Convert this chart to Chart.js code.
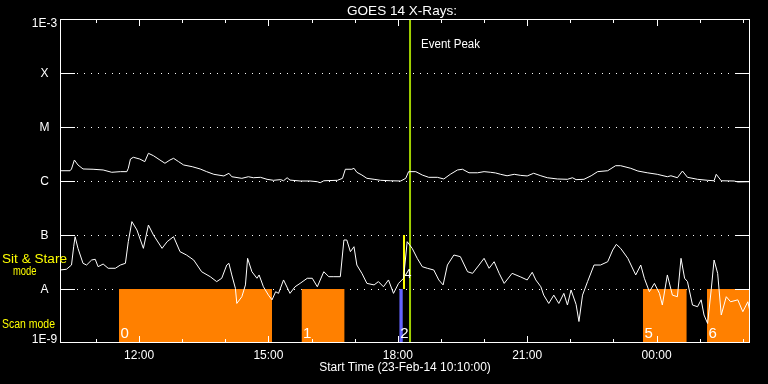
<!DOCTYPE html>
<html><head><meta charset="utf-8">
<script src="https://cdn.jsdelivr.net/npm/chart.js@4.4.1/dist/chart.umd.min.js"></script>
<style>html,body{margin:0;padding:0;background:#000;overflow:hidden}canvas{display:block}</style>
</head><body>
<canvas id="c" width="768" height="384" style="width:768px;height:384px"></canvas>
<script>
// ---- data (time = minutes after 23-Feb-14 10:10:00) ----
const chartTitle = 'GOES 14 X-Rays:';
const startLabel = '23-Feb-14 10:10:00';
const startMinuteOfDay = 10 * 60 + 10;

// long channel (upper curve), W/m^2
const longTime = [0,14,16,20,25,32,46,60,72,84,93,95,98,102,111,118,123,130,139,146,153,158,165,172,184,195,204,214,228,235,239,253,262,269,279,288,297,307,311,316,320,334,348,358,362,367,386,393,397,406,409,413,420,427,437,446,460,474,481,485,495,504,513,525,534,543,553,560,569,581,590,599,606,613,622,632,641,650,659,669,678,692,706,713,718,729,739,748,762,773,780,794,804,817,831,845,850,859,866,873,887,901,910,913,920,938,943,960];
const longFlux = [1.55e-6,1.55e-6,1.67e-6,2.45e-6,1.98e-6,1.67e-6,1.65e-6,1.60e-6,1.45e-6,1.49e-6,
1.49e-6,1.72e-6,2.55e-6,2.75e-6,2.55e-6,2.28e-6,3.26e-6,2.94e-6,2.45e-6,2.13e-6,
2.45e-6,2.63e-6,2.28e-6,1.98e-6,1.84e-6,1.67e-6,1.49e-6,1.33e-6,1.24e-6,1.39e-6,
1.20e-6,1.12e-6,1.20e-6,1.15e-6,1.17e-6,1.075e-6,1.03e-6,1.06e-6,1.01e-6,1.15e-6,
1.04e-6,1.00e-6,1.00e-6,0.97e-6,0.93e-6,1.01e-6,1.03e-6,1.12e-6,1.65e-6,1.65e-6,
1.72e-6,1.45e-6,1.29e-6,1.12e-6,1.075e-6,1.03e-6,1.01e-6,1.00e-6,1.12e-6,1.49e-6,
1.49e-6,1.29e-6,1.17e-6,1.17e-6,1.09e-6,1.33e-6,1.60e-6,1.65e-6,1.42e-6,1.42e-6,
1.49e-6,1.45e-6,1.41e-6,1.33e-6,1.25e-6,1.33e-6,1.27e-6,1.24e-6,1.39e-6,1.25e-6,
1.15e-6,1.09e-6,1.075e-6,1.15e-6,1.06e-6,1.075e-6,1.25e-6,1.49e-6,1.55e-6,1.92e-6,
1.92e-6,1.72e-6,1.53e-6,1.42e-6,1.33e-6,1.20e-6,1.25e-6,1.15e-6,1.53e-6,1.17e-6,
1.075e-6,1.03e-6,1.01e-6,1.33e-6,1.01e-6,1.00e-6,0.96e-6,0.97e-6];

// short channel (lower curve), W/m^2
const shortTime = [0,9,16,19,21,25,32,37,44,49,53,60,67,77,84,91,95,100,107,116,123,130,142,149,158,167,176,186,197,209,218,225,232,235,239,244,246,253,258,261,267,274,277,283,290,295,300,304,311,320,327,334,344,351,358,367,374,381,390,395,399,404,409,413,420,427,437,443,450,457,464,471,478,483,490,497,504,511,520,527,533,539,548,557,567,574,583,590,597,604,611,618,629,641,650,657,662,669,673,680,687,694,701,706,711,718,722,727,734,743,752,762,769,774,780,790,801,808,813,820,827,834,838,845,852,859,864,869,873,880,887,892,896,901,906,910,915,920,927,933,943,950,957,960];
const shortFlux = [2.25e-8,2.32e-8,2.78e-8,6.07e-8,9.3e-8,5.66e-8,2.99e-8,2.78e-8,3.44e-8,3.55e-8,
2.59e-8,2.90e-8,2.42e-8,2.42e-8,2.78e-8,2.99e-8,7.52e-8,17.7e-8,12.4e-8,5.66e-8,
15.3e-8,10e-8,5.66e-8,7.52e-8,9.3e-8,4.91e-8,4.26e-8,3.44e-8,2.09e-8,1.69e-8,
1.37e-8,1.58e-8,2.78e-8,2.99e-8,1.82e-8,1.03e-8,0.54e-8,0.72e-8,1.19e-8,3.70e-8,
2.09e-8,1.58e-8,1.82e-8,1.10e-8,0.77e-8,0.63e-8,0.89e-8,0.83e-8,1.47e-8,0.83e-8,
1.10e-8,1.27e-8,1.58e-8,1.58e-8,1.10e-8,2.09e-8,1.69e-8,1.69e-8,1.69e-8,8.08e-8,
8.08e-8,4.91e-8,6.07e-8,2.78e-8,1.95e-8,1.27e-8,1.19e-8,1.37e-8,1.10e-8,1.47e-8,
0.83e-8,1.27e-8,1.58e-8,7.52e-8,5.66e-8,3.70e-8,2.59e-8,2.42e-8,2.25e-8,1.47e-8,
1.19e-8,2.78e-8,4.26e-8,3.97e-8,2.09e-8,1.95e-8,2.78e-8,3.70e-8,2.42e-8,3.20e-8,
1.95e-8,1.27e-8,1.95e-8,1.67e-8,1.47e-8,2.04e-8,1.47e-8,1.10e-8,0.77e-8,0.54e-8,
0.77e-8,0.54e-8,0.83e-8,0.505e-8,0.96e-8,0.52e-8,0.25e-8,0.77e-8,1.37e-8,2.78e-8,
2.78e-8,3.20e-8,5.27e-8,6.71e-8,5.66e-8,3.70e-8,1.82e-8,2.78e-8,1.58e-8,0.89e-8,
1.27e-8,0.83e-8,0.505e-8,1.82e-8,0.77e-8,0.72e-8,3.70e-8,1.58e-8,1.37e-8,0.505e-8,
0.47e-8,0.63e-8,0.33e-8,0.23e-8,0.96e-8,3.44e-8,1.95e-8,0.33e-8,0.72e-8,0.58e-8,
0.63e-8,0.38e-8,0.58e-8,0.38e-8];

// observing modes (minutes after start)
const scanStart = [82, 336, 811, 900];
const scanEnd = [295, 396, 872, 961];
const scanLabels = ['0', '1', '5', '6'];
const calStart = [472];
const calEnd = [477];
const calLabels = ['2'];
const stareStart = [477];
const stareEnd = [480];
const stareLabels = ['4'];
const eventPeak = 487;

// axes
const levelValues = [1e-9, 1e-8, 1e-7, 1e-6, 1e-5, 1e-4, 1e-3];
const levelLabels = ['1E-9', 'A', 'B', 'C', 'M', 'X', '1E-3'];
const hourTicks = [50,110,170,230,290,350,410,470,530,590,650,710,770,830,890,950];
const labeledTicks = [110, 290, 470, 650, 830];

// ---- styles ----
const FONT = 'Liberation Sans';
const ORANGE = '#ff8000', BLUE = '#6464ff', YELLOW = '#ffff00', PEAK = '#a0d000';

function fmtTime(m) {
  const t = (startMinuteOfDay + m) % 1440;
  const h = Math.floor(t / 60), mm = t % 60;
  return String(h).padStart(2, '0') + ':' + String(mm).padStart(2, '0');
}

// draw text stretched/compressed horizontally to a given width, left edge at x
function fitText(ctx, str, x, y, width) {
  const w = ctx.measureText(str).width;
  ctx.save();
  ctx.textAlign = 'left';
  ctx.translate(x, y);
  ctx.scale(width / w, 1);
  ctx.fillText(str, 0, 0);
  ctx.restore();
}

const datasets = [];
datasets.push({ data: shortTime.map((t, i) => ({ x: t, y: shortFlux[i] })), borderColor: '#fff', borderWidth: 1, pointRadius: 0, tension: 0, fill: false });
datasets.push({ data: longTime.map((t, i) => ({ x: t, y: longFlux[i] })), borderColor: '#fff', borderWidth: 1, pointRadius: 0, tension: 0, fill: false });
datasets.push({ data: [{ x: eventPeak, y: 1e-9 }, { x: eventPeak, y: 1e-3 }], borderColor: PEAK, borderWidth: 2, pointRadius: 0, fill: false });
stareStart.forEach((s, i) => datasets.push({ data: [{ x: s, y: 1e-7 }, { x: stareEnd[i], y: 1e-7 }], borderColor: 'rgba(0,0,0,0)', borderWidth: 0, backgroundColor: YELLOW, pointRadius: 0, fill: { value: 1e-8 } }));
calStart.forEach((s, i) => datasets.push({ data: [{ x: s, y: 1e-8 }, { x: calEnd[i], y: 1e-8 }], borderColor: 'rgba(0,0,0,0)', borderWidth: 0, backgroundColor: BLUE, pointRadius: 0, fill: 'start' }));
scanStart.forEach((s, i) => datasets.push({ data: [{ x: s, y: 1e-8 }, { x: scanEnd[i], y: 1e-8 }], borderColor: 'rgba(0,0,0,0)', borderWidth: 0, backgroundColor: ORANGE, pointRadius: 0, fill: 'start' }));

const decor = {
  id: 'decor',
  beforeDatasetsDraw(chart) {
    const { ctx, chartArea: a, scales: { y } } = chart;
    ctx.save();
    ctx.strokeStyle = '#fff';
    ctx.lineWidth = 1;
    ctx.setLineDash([1, 6]);
    levelValues.slice(1, -1).forEach(v => {
      const py = Math.round(y.getPixelForValue(v)) + 0.5;
      ctx.beginPath(); ctx.moveTo(a.left + 17, py); ctx.lineTo(a.right - 15, py); ctx.stroke();
    });
    ctx.restore();
  },
  afterDatasetsDraw(chart) {
    const { ctx, chartArea: a, scales: { x, y } } = chart;
    ctx.save();
    ctx.strokeStyle = '#fff';
    ctx.lineWidth = 1;
    // frame
    ctx.strokeRect(a.left + 0.5, a.top + 0.5, a.right - a.left - 1, a.bottom - a.top - 1);
    // y ticks
    levelValues.slice(1, -1).forEach(v => {
      const py = Math.round(y.getPixelForValue(v)) + 0.5;
      ctx.beginPath();
      ctx.moveTo(a.left, py); ctx.lineTo(a.left + 15, py);
      ctx.moveTo(a.right - 15, py); ctx.lineTo(a.right, py);
      ctx.stroke();
    });
    // x ticks
    hourTicks.forEach(v => {
      const px = Math.round(x.getPixelForValue(v)) + 0.5;
      const len = labeledTicks.includes(v) ? 7 : 4;
      ctx.beginPath();
      ctx.moveTo(px, a.top); ctx.lineTo(px, a.top + len);
      ctx.moveTo(px, a.bottom); ctx.lineTo(px, a.bottom - len);
      ctx.stroke();
    });
    // y labels
    ctx.fillStyle = '#fff';
    ctx.font = '12px "' + FONT + '"';
    ctx.textAlign = 'center';
    ctx.textBaseline = 'alphabetic';
    levelValues.forEach((v, i) => {
      const py = y.getPixelForValue(v);
      let off = 4;
      if (i === 0) off = 0;
      if (i === levelValues.length - 1) off = 8;
      ctx.fillText(levelLabels[i], a.left - 15.5, py + off);
    });
    // title
    ctx.font = '13px "' + FONT + '"';
    fitText(ctx, chartTitle, 347, 15, 110);
    // event peak
    ctx.font = '12px "' + FONT + '"';
    fitText(ctx, 'Event Peak', x.getPixelForValue(eventPeak) + 11, 48, 59);
    // mode labels
    ctx.fillStyle = YELLOW;
    const yB = y.getPixelForValue(1e-7), yA = y.getPixelForValue(1e-8);
    fitText(ctx, 'Sit & Stare', 2, yB + 28, 65);
    fitText(ctx, 'mode', 13, yB + 40, 23.5);
    fitText(ctx, 'Scan mode', 2, yA + 39, 53);
    // segment numbers
    ctx.fillStyle = '#fff';
    ctx.textAlign = 'left';
    ctx.font = '15px "' + FONT + '"';
    scanStart.forEach((s, i) => ctx.fillText(scanLabels[i], x.getPixelForValue(s) + 1.5, a.bottom - 5));
    calStart.forEach((s, i) => ctx.fillText(calLabels[i], x.getPixelForValue(s) + 1, a.bottom - 5));
    ctx.font = '12px "' + FONT + '"';
    stareStart.forEach((s, i) => ctx.fillText(stareLabels[i], x.getPixelForValue(s) + 2, yA - 11));
    ctx.restore();
  }
};

new Chart(document.getElementById('c'), {
  type: 'line',
  data: { datasets },
  options: {
    responsive: false,
    animation: false,
    devicePixelRatio: 1,
    layout: { padding: { left: 60, right: 18, top: 19, bottom: 0 } },
    plugins: { legend: { display: false }, tooltip: { enabled: false }, title: { display: false } },
    scales: {
      x: {
        type: 'linear', min: 0, max: 960,
        grid: { display: false, drawTicks: false },
        border: { display: false },
        afterBuildTicks: s => { s.ticks = hourTicks.map(v => ({ value: v })); },
        afterFit: s => { s.height = 41; },
        ticks: {
          color: '#fff', font: { family: FONT, size: 12 }, padding: 5,
          autoSkip: false, maxRotation: 0,
          callback: v => labeledTicks.includes(v) ? fmtTime(v) : ''
        },
        title: { display: true, text: 'Start Time (' + startLabel + ')', color: '#fff', font: { family: FONT, size: 12 }, padding: { top: 0, bottom: 9 } }
      },
      y: { type: 'logarithmic', display: false, min: 1e-9, max: 1e-3 }
    }
  },
  plugins: [decor]
});
</script>
</body></html>
